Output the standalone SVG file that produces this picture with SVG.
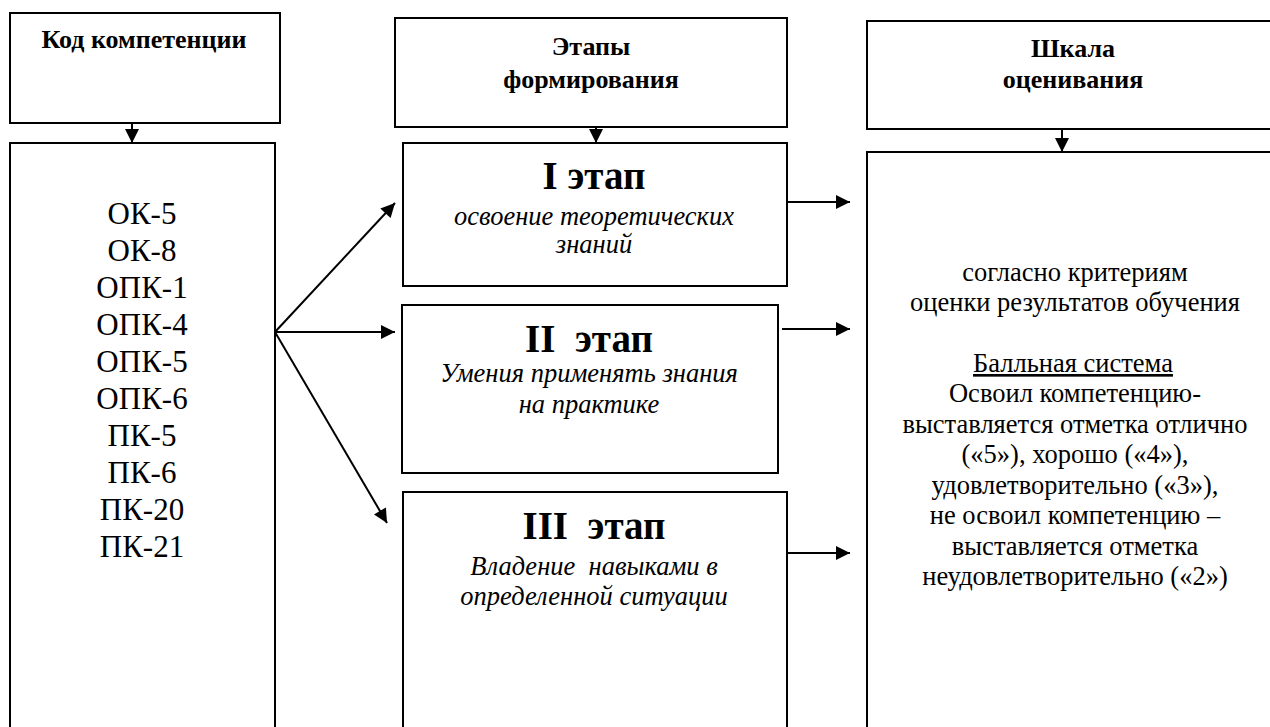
<svg xmlns="http://www.w3.org/2000/svg" width="1270" height="727" viewBox="0 0 1270 727">
<style>
.box{fill:#fff;stroke:#000;stroke-width:2}
text{font-family:'Liberation Serif','Times New Roman',serif;fill:#000;text-anchor:middle}
.h{font-size:26px;font-weight:bold}
.c{font-size:31px}
.st{font-size:39px;font-weight:bold}
.it{font-size:26.5px;font-style:italic}
.r{font-size:26.5px}
.ln{stroke:#000;stroke-width:2;fill:none}
</style>
<defs>
<marker id="ah" viewBox="0 0 10 10" refX="10" refY="5" markerWidth="8" markerHeight="7" orient="auto" markerUnits="strokeWidth">
<path d="M0,0 L10,5 L0,10 z" fill="#000"/>
</marker>
</defs>
<rect width="1270" height="727" fill="#fff"/>
<g id="hdr-code">
<rect class="box" x="10" y="13" width="270" height="110"/>
<text class="h" x="144" y="48">Код компетенции</text>
</g>
<g id="codes">
<rect class="box" x="10" y="143" width="265" height="600"/>
<text class="c" x="142" y="224">ОК-5</text>
<text class="c" x="142" y="261">ОК-8</text>
<text class="c" x="142" y="298">ОПК-1</text>
<text class="c" x="142" y="335">ОПК-4</text>
<text class="c" x="142" y="372">ОПК-5</text>
<text class="c" x="142" y="409">ОПК-6</text>
<text class="c" x="142" y="446">ПК-5</text>
<text class="c" x="142" y="483">ПК-6</text>
<text class="c" x="142" y="520">ПК-20</text>
<text class="c" x="142" y="557">ПК-21</text>
</g>
<g id="hdr-stages">
<rect class="box" x="395" y="18" width="392" height="109"/>
<text class="h" x="591" y="55">Этапы</text>
<text class="h" x="591" y="88">формирования</text>
</g>
<g id="stage1">
<rect class="box" x="403" y="143" width="384" height="143"/>
<text class="st" x="594" y="189">I этап</text>
<text class="it" x="594" y="225">освоение теоретических</text>
<text class="it" x="594" y="253">знаний</text>
</g>
<g id="stage2">
<rect class="box" x="402" y="305" width="376" height="168"/>
<text class="st" x="589" y="352" xml:space="preserve">II  этап</text>
<text class="it" x="589" y="382">Умения применять знания</text>
<text class="it" x="589" y="413">на практике</text>
</g>
<g id="stage3">
<rect class="box" x="403" y="492" width="384" height="260"/>
<text class="st" x="594" y="539" xml:space="preserve">III  этап</text>
<text class="it" x="594" y="575" xml:space="preserve">Владение  навыками в</text>
<text class="it" x="594" y="605">определенной ситуации</text>
</g>
<g id="hdr-scale">
<rect class="box" x="867" y="21" width="420" height="108"/>
<text class="h" x="1073" y="57">Шкала</text>
<text class="h" x="1073" y="88">оценивания</text>
</g>
<g id="scale">
<rect class="box" x="867" y="152" width="420" height="600"/>
<text class="r" x="1075" y="281">согласно критериям</text>
<text class="r" x="1075" y="311">оценки результатов обучения</text>
<text class="r" x="1073" y="372" text-decoration="underline">Балльная система</text>
<text class="r" x="1075" y="402">Освоил компетенцию-</text>
<text class="r" x="1075" y="433">выставляется отметка отлично</text>
<text class="r" x="1075" y="463">(«5»), хорошо («4»),</text>
<text class="r" x="1075" y="494">удовлетворительно («3»),</text>
<text class="r" x="1075" y="524">не освоил компетенцию –</text>
<text class="r" x="1075" y="555">выставляется отметка</text>
<text class="r" x="1075" y="585">неудовлетворительно («2»)</text>
</g>
<g id="connectors">
<line class="ln" x1="132" y1="123" x2="132" y2="143" marker-end="url(#ah)"/>
<line class="ln" x1="596" y1="127" x2="596" y2="143" marker-end="url(#ah)"/>
<line class="ln" x1="1062" y1="129" x2="1062" y2="152" marker-end="url(#ah)"/>
<line class="ln" x1="275" y1="332" x2="395" y2="203" marker-end="url(#ah)"/>
<line class="ln" x1="275" y1="332" x2="395" y2="332" marker-end="url(#ah)"/>
<line class="ln" x1="275" y1="332" x2="387" y2="523" marker-end="url(#ah)"/>
<line class="ln" x1="786" y1="202" x2="850" y2="202" marker-end="url(#ah)"/>
<line class="ln" x1="782" y1="329" x2="850" y2="329" marker-end="url(#ah)"/>
<line class="ln" x1="787" y1="553" x2="850" y2="553" marker-end="url(#ah)"/>
</g>
</svg>
